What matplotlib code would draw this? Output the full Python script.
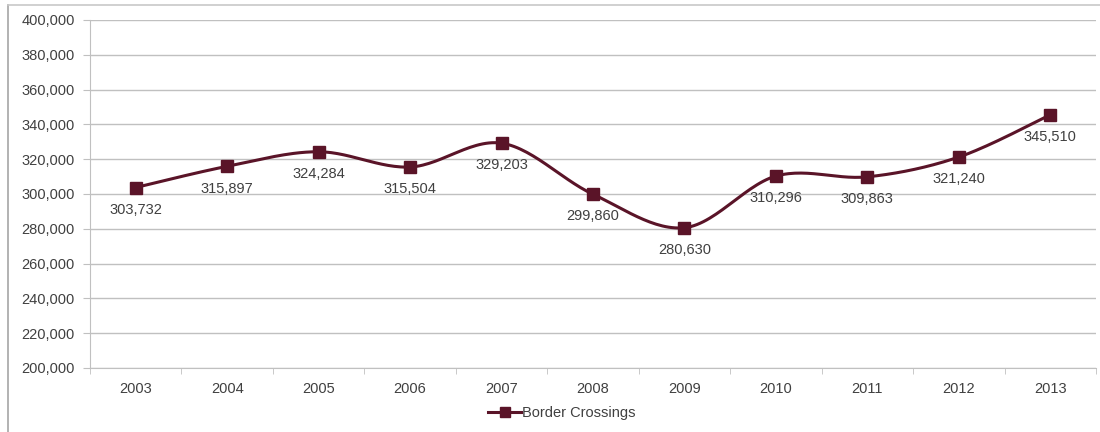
import matplotlib.pyplot as plt
from matplotlib.lines import Line2D
import numpy as np

plt.rcParams['font.family'] = ['Liberation Sans', 'DejaVu Sans']

years = ['2003', '2004', '2005', '2006', '2007', '2008', '2009', '2010', '2011', '2012', '2013']
crossings = [303732, 315897, 324284, 315504, 329203, 299860, 280630, 310296, 309863, 321240, 345510]

line_color = '#5a1428'
grid_color = '#c0c0c0'
text_color = '#404040'


# Excel-style smoothed line: cubic Bezier through the points, Catmull-Rom control points
def smooth(xs, ys, n=30):
    xs = np.asarray(xs, float)
    ys = np.asarray(ys, float)
    px = np.concatenate([[xs[0]], xs, [xs[-1]]])
    py = np.concatenate([[ys[0]], ys, [ys[-1]]])
    out_x, out_y = [], []
    t = np.linspace(0, 1, n)
    for i in range(1, len(px) - 2):
        p0 = np.array([px[i], py[i]])
        p3 = np.array([px[i + 1], py[i + 1]])
        c1 = p0 + (np.array([px[i + 1], py[i + 1]]) - np.array([px[i - 1], py[i - 1]])) / 6
        c2 = p3 - (np.array([px[i + 2], py[i + 2]]) - np.array([px[i], py[i]])) / 6
        b = ((1 - t) ** 3)[:, None] * p0 + (3 * (1 - t) ** 2 * t)[:, None] * c1 \
            + (3 * (1 - t) * t ** 2)[:, None] * c2 + (t ** 3)[:, None] * p3
        out_x.extend(b[:, 0])
        out_y.extend(b[:, 1])
    return out_x, out_y


x = np.arange(len(years))
sx, sy = smooth(x, crossings)

fig = plt.figure(figsize=(11, 4.32), dpi=100)
ax = fig.add_axes([90 / 1100, 1 - 368 / 432, 1006 / 1100, 348 / 432])

ax.plot(sx, sy, color=line_color, lw=2.2, zorder=3)
ax.plot(x, crossings, linestyle='none', marker='s', markersize=8.5, color=line_color, zorder=4)

for xi, v in zip(x, crossings):
    ax.annotate(f'{v:,}', (xi, v), xytext=(0, -16), textcoords='offset points',
                ha='center', va='center', fontsize=10.5, color=text_color)

ax.set_xlim(-0.5, len(years) - 0.5)
ax.set_ylim(200000, 400000)
ax.set_yticks(np.arange(200000, 400001, 20000))
ax.yaxis.set_major_formatter(plt.FuncFormatter(lambda v, p: f'{int(v):,}'))
ax.set_xticks(x)
ax.set_xticklabels(years)
ax.set_xticks(np.arange(-0.5, len(years)), minor=True)
ax.tick_params(axis='x', which='major', length=0, pad=10, labelsize=10.5, labelcolor=text_color)
ax.tick_params(axis='x', which='minor', length=4, color=grid_color, direction='out')
ax.tick_params(axis='y', length=5, color=grid_color, labelsize=10.5, labelcolor=text_color, pad=6)

ax.grid(axis='y', color=grid_color, lw=1)
ax.set_axisbelow(True)
for s in ['top', 'right']:
    ax.spines[s].set_visible(False)
for s in ['left', 'bottom']:
    ax.spines[s].set_color(grid_color)

handle = Line2D([], [], color=line_color, lw=2.2, marker='s', markersize=7.5)
fig.legend([handle], ['Border Crossings'], loc='center', bbox_to_anchor=(562 / 1100, 1 - 413 / 432),
           frameon=False, fontsize=10.5, labelcolor=text_color, handlelength=2.2, handletextpad=0.1)

# outer chart frame (left and top edges visible)
fig.add_artist(Line2D([8 / 1100, 8 / 1100], [0, 1 - 5 / 432], color='#a6a6a6', lw=1.2))
fig.add_artist(Line2D([8 / 1100, 1], [1 - 5 / 432, 1 - 5 / 432], color='#c8c8c8', lw=1.2))

fig.savefig('out.png', dpi=100)
